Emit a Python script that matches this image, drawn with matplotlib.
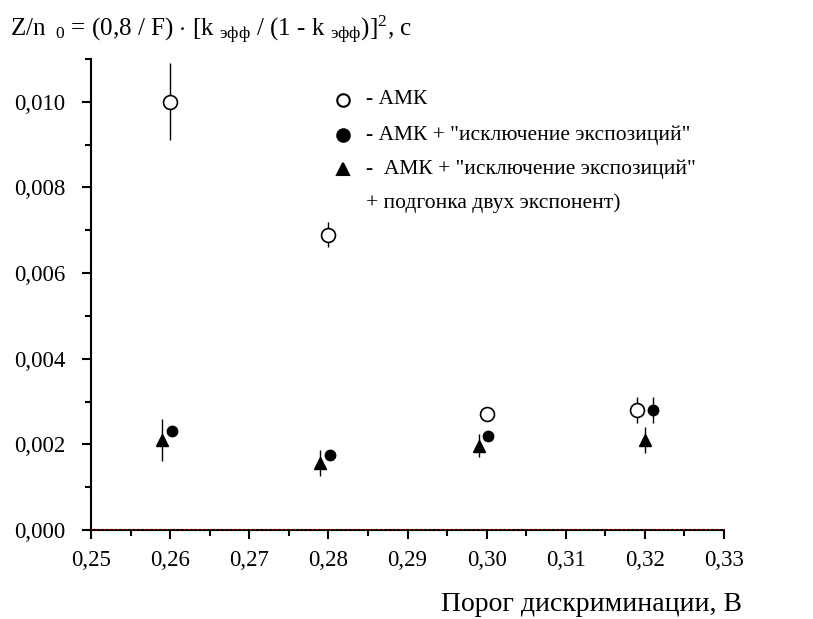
import numpy as np
import matplotlib
matplotlib.use('Agg')
import matplotlib.pyplot as plt
import matplotlib.ticker as mtick

plt.rcParams['font.family'] = ['Liberation Serif', 'DejaVu Serif']
plt.rcParams['mathtext.fontset'] = 'custom'
plt.rcParams['mathtext.rm'] = 'Liberation Serif'
plt.rcParams['mathtext.it'] = 'Liberation Serif:italic'

# AMK (open circles)
amk_x = [0.260, 0.280, 0.300, 0.319]
amk_y = [0.0100, 0.0069, 0.0027, 0.0028]
amk_err = [0.0009, 0.0003, 0.0001, 0.0003]

# AMK + exposure exclusion (filled circles)
exc_x = [0.2602, 0.2802, 0.3002, 0.321]
exc_y = [0.0023, 0.00175, 0.0022, 0.0028]
exc_err = [0.0001, 0.0001, 0.0001, 0.0003]

# AMK + exclusion + two-exponent fit (triangles)
fit_x = [0.259, 0.279, 0.299, 0.320]
fit_y = [0.0021, 0.00157, 0.00197, 0.0021]
fit_err = [0.0005, 0.0003, 0.00027, 0.0003]

legend_labels = ['- АМК',
                 '- АМК + "исключение экспозиций"',
                 '-  АМК + "исключение экспозиций"',
                 '+ подгонка двух экспонент)']

fig = plt.figure(figsize=(8.13, 6.19), dpi=100)
ax = fig.add_axes([0.112, 0.1438, 0.7785, 0.761])

ax.errorbar(amk_x, amk_y, yerr=amk_err, fmt='o', mfc='white', mec='black',
            mew=1.2, ms=10, ecolor='black', elinewidth=1, capsize=0, zorder=3)
ax.errorbar(exc_x, exc_y, yerr=exc_err, fmt='o', color='black',
            ms=7.5, ecolor='black', elinewidth=1, capsize=0, zorder=3)
ax.errorbar(fit_x, fit_y, yerr=fit_err, fmt='^', color='black',
            ms=9, ecolor='black', elinewidth=1, capsize=0, zorder=3)

ax.axhline(0, color='red', ls=':', lw=1.2, zorder=4)

ax.set_xlim(0.25, 0.33)
ax.set_ylim(0, 0.011)
ax.xaxis.set_major_locator(mtick.MultipleLocator(0.01))
ax.xaxis.set_minor_locator(mtick.MultipleLocator(0.005))
ax.yaxis.set_major_locator(mtick.MultipleLocator(0.002))
ax.yaxis.set_minor_locator(mtick.MultipleLocator(0.001))
ax.xaxis.set_major_formatter(mtick.FuncFormatter(lambda v, p: f'{v:.2f}'.replace('.', ',')))
ax.yaxis.set_major_formatter(mtick.FuncFormatter(lambda v, p: f'{v:.3f}'.replace('.', ',')))

ax.spines['top'].set_visible(False)
ax.spines['right'].set_visible(False)
for s in ['left', 'bottom']:
    ax.spines[s].set_linewidth(1.5)
ax.tick_params(which='major', direction='out', length=6.5, width=1.5, labelsize=16.5)
ax.tick_params(which='minor', direction='out', length=4, width=1.5)
ax.tick_params(axis='x', pad=8)
ax.tick_params(axis='y', pad=12)

# legend drawn by hand
leg_mk = ['o', 'o', '^']
leg_fc = ['white', 'black', 'black']
leg_y = [0.913, 0.839, 0.766]
for m, fc, yy in zip(leg_mk, leg_fc, leg_y):
    ax.plot([0.398], [yy], marker=m, mfc=fc, mec='black', mew=1.5, ms=9,
            transform=ax.transAxes, clip_on=False, ls='none')
for lab, yy in zip(legend_labels, leg_y + [0.694]):
    ax.text(0.434, yy, lab, transform=ax.transAxes, fontsize=15.5,
            va='center', ha='left')

fig.text(0.012, 0.952,
         r'Z/n $_{\ 0}$ = (0,8 / F) $\cdot$ [k $_{\mathrm{эфф}}$ / (1 - k $_{\mathrm{эфф}}$)]$^{2}$, с',
         fontsize=18, va='center', ha='left')
fig.text(0.913, 0.024, 'Порог дискриминации, В', fontsize=20, ha='right', va='center')

fig.savefig('out.png', dpi=100)
